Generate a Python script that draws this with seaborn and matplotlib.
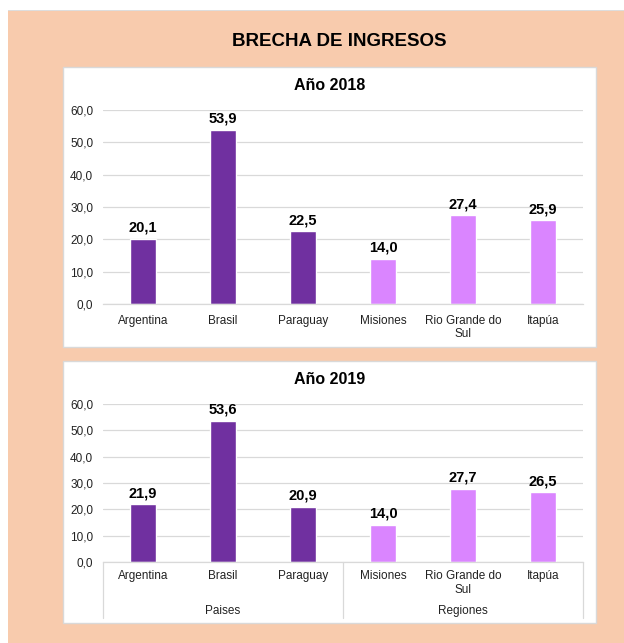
import matplotlib
matplotlib.use("Agg")
import matplotlib.pyplot as plt
import seaborn as sns
import pandas as pd
from matplotlib.patches import Rectangle
import matplotlib.transforms as mtransforms

categories = ["Argentina", "Brasil", "Paraguay", "Misiones", "Rio Grande do\nSul", "Itapúa"]
groups = ["Paises", "Paises", "Paises", "Regiones", "Regiones", "Regiones"]
values_2018 = [20.1, 53.9, 22.5, 14.0, 27.4, 25.9]
values_2019 = [21.9, 53.6, 20.9, 14.0, 27.7, 26.5]
y_ticks = [0, 10, 20, 30, 40, 50, 60]
group_names = ["Paises", "Regiones"]

PEACH = "#F8CBAD"
DARK = "#7030A0"
LIGHT = "#DA85FF"
GRID = "#D9D9D9"
TXT = "#222222"

sns.set_theme(style="white")
plt.rcParams["font.family"] = ["Liberation Sans", "DejaVu Sans"]

W, H = 624, 643
fig = plt.figure(figsize=(W / 100, H / 100), dpi=100, facecolor=PEACH)

def fx(px):
    return px / W

def fy(py):
    return 1 - py / H

# white strips at top and left
fig.patches.append(Rectangle((0, fy(10)), 1, 10 / H, transform=fig.transFigure,
                             facecolor="white", edgecolor="none", zorder=-2))
fig.patches.append(Rectangle((0, 0), 8 / W, 1, transform=fig.transFigure,
                             facecolor="white", edgecolor="none", zorder=-2))
fig.patches.append(Rectangle((8 / W, fy(11)), 1, 1 / H, transform=fig.transFigure,
                             facecolor="#DDDDDD", edgecolor="none", zorder=-2))

# white panels
for (x0, y0, x1, y1) in [(63, 67, 596, 347), (63, 361, 596, 623)]:
    fig.patches.append(Rectangle((fx(x0), fy(y1)), fx(x1 - x0), (y1 - y0) / H,
                                 transform=fig.transFigure, facecolor="white",
                                 edgecolor="#D9D9D9", linewidth=1.0, zorder=-1))

fig.text(fx(339), fy(41), "BRECHA DE INGRESOS", ha="center", va="center",
         fontsize=13.5, fontweight="bold", color="black",
         family=["Liberation Sans Narrow", "Liberation Sans", "DejaVu Sans"])

palette = {"Paises": DARK, "Regiones": LIGHT}

def fmt(v):
    return f"{v:.1f}".replace(".", ",")

def draw(ax, values, title, title_py, xpad, boxed):
    df = pd.DataFrame({"cat": categories, "val": values, "grp": groups})
    sns.barplot(data=df, x="cat", y="val", hue="grp", palette=palette,
                dodge=False, width=0.33, legend=False, ax=ax, saturation=1)
    ax.set_ylim(0, 60)
    ax.set_xlim(-0.5, len(categories) - 0.5)
    ax.set_yticks(y_ticks)
    ax.set_yticklabels([fmt(t) for t in y_ticks], fontsize=8.5, color=TXT)
    ax.set_xticks(range(len(categories)))
    ax.set_xticklabels(categories, fontsize=8.5, color=TXT, linespacing=1.15)
    ax.tick_params(axis="x", length=0, pad=xpad)
    ax.tick_params(axis="y", length=0, pad=7)
    ax.set_xlabel("")
    ax.set_ylabel("")
    ax.grid(axis="y", color=GRID, linewidth=0.9)
    ax.set_axisbelow(True)
    for s in ["top", "right", "left"]:
        ax.spines[s].set_visible(False)
    ax.spines["bottom"].set_color(GRID)
    ax.spines["bottom"].set_linewidth(0.9)
    ax.set_facecolor("white")
    for cont in ax.containers:
        ax.bar_label(cont, labels=[fmt(b.get_height()) for b in cont],
                     padding=3, fontsize=10.5, fontweight="bold", color="black")
    fig.text(fx(329.5), fy(title_py), title, ha="center", va="center",
             fontsize=11.5, fontweight="bold", color="black")
    if boxed:
        trans = mtransforms.blended_transform_factory(ax.transData, ax.transAxes)
        depth = 56 / 158
        for xb in [-0.5, 2.5, 5.5]:
            ax.plot([xb, xb], [0, -depth], transform=trans, color=GRID,
                    linewidth=0.9, clip_on=False)
        for i, g in enumerate(group_names):
            ax.text(1 + 3 * i, -49 / 158, g, transform=trans, ha="center",
                    va="center", fontsize=8.5, color=TXT)

# top chart: y=0 at 304px, y=60 at 110px ; x from 103 to 583
ax1 = fig.add_axes([fx(103), fy(304), fx(583 - 103), (304 - 110) / H])
draw(ax1, values_2018, "Año 2018", 85, 8, False)

ax2 = fig.add_axes([fx(103), fy(562), fx(583 - 103), (562 - 404) / H])
draw(ax2, values_2019, "Año 2019", 380, 6, True)

fig.savefig("out.png", dpi=100, facecolor=PEACH)
